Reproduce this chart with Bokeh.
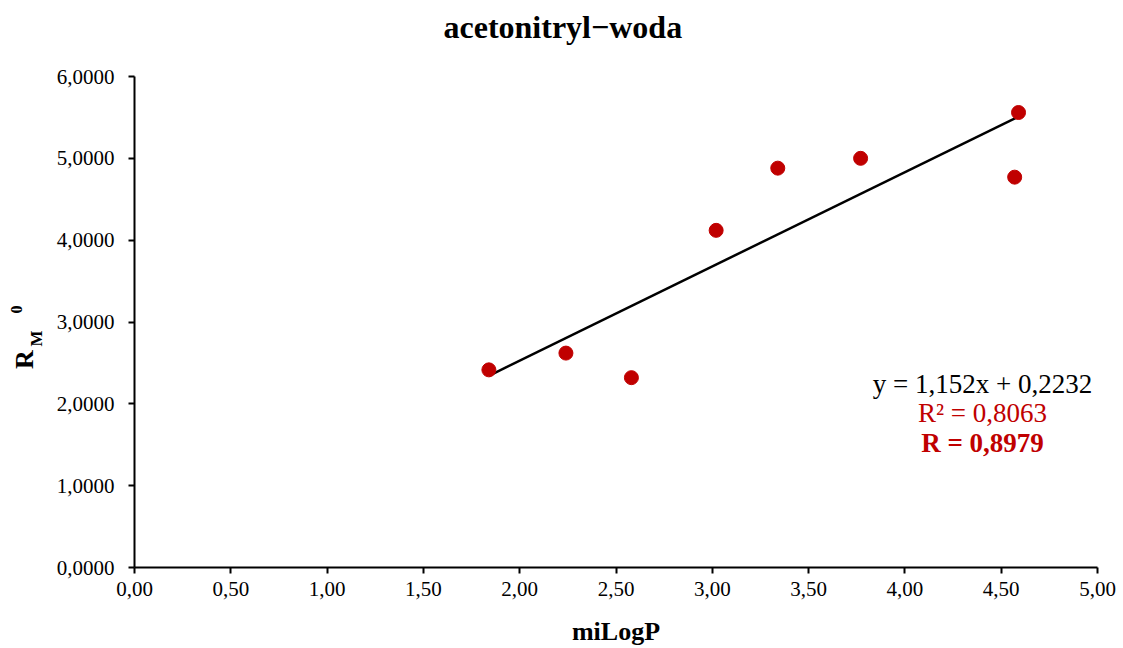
import math
from bokeh.plotting import figure
from bokeh.models import Range1d, FixedTicker, CustomJSTickFormatter, Label, Title
from bokeh.layouts import row
from bokeh.embed import file_html
from bokeh.resources import INLINE

# data
mi_logp = [1.84, 2.24, 2.58, 3.02, 3.34, 3.77, 4.57, 4.59]
rm0 = [2.415, 2.62, 2.32, 4.12, 4.88, 5.00, 4.77, 5.56]
slope = 1.152
intercept = 0.2232
x_ticks = [0, 0.5, 1, 1.5, 2, 2.5, 3, 3.5, 4, 4.5, 5]
y_ticks = [0, 1, 2, 3, 4, 5, 6]
title_text = "acetonitryl\u2212woda"
x_label = "miLogP"
eq_text = "y = 1,152x + 0,2232"
r2_text = "R² = 0,8063"
r_text = "R = 0,8979"

RED = "#C00000"
FONT = "Liberation Serif"
LEFT_W = 50

p = figure(width=1123 - LEFT_W, height=648, output_backend="svg", toolbar_location=None,
           title=None,
           x_range=Range1d(0, 5), y_range=Range1d(0, 6),
           min_border_left=134 - LEFT_W, min_border_right=26, min_border_top=76, min_border_bottom=80)

# spacer between frame and title, then the title itself (outermost)
p.add_layout(Title(text=" ", text_font=FONT, text_font_size="22px", standoff=0), "above")
p.add_layout(Title(text=title_text, align="left", offset=309, standoff=10,
                   text_font=FONT, text_font_size="32px", text_font_style="bold",
                   text_color="black"), "above")

p.grid.visible = False
p.outline_line_color = None
p.background_fill_color = "white"
p.border_fill_color = "white"

for ax in (p.xaxis[0], p.yaxis[0]):
    ax.axis_line_color = "black"
    ax.axis_line_width = 2
    ax.major_tick_line_color = "black"
    ax.major_tick_line_width = 2
    ax.major_tick_out = 6
    ax.major_tick_in = 0
    ax.minor_tick_line_color = None
    ax.major_label_text_font = FONT
    ax.major_label_text_font_size = "21px"
    ax.major_label_text_color = "black"

p.xaxis.ticker = FixedTicker(ticks=x_ticks)
p.yaxis.ticker = FixedTicker(ticks=y_ticks)
p.xaxis.formatter = CustomJSTickFormatter(code="return tick.toFixed(2).replace('.', ',');")
p.yaxis.formatter = CustomJSTickFormatter(code="return tick.toFixed(4).replace('.', ',');")
p.yaxis.major_label_standoff = 14
p.xaxis.major_label_standoff = 8
p.xaxis.axis_label = x_label
p.xaxis.axis_label_text_font = FONT
p.xaxis.axis_label_text_font_size = "26px"
p.xaxis.axis_label_text_font_style = "bold"
p.xaxis.axis_label_text_color = "black"
p.xaxis.axis_label_standoff = 18

# trend line
x0, x1 = min(mi_logp), max(mi_logp)
p.line([x0, x1], [slope * x0 + intercept, slope * x1 + intercept], line_color="black", line_width=2.5)

p.scatter(mi_logp, rm0, size=14, fill_color=RED, line_color=RED)

def lab(fig, text, x, y, size, color="black", bold=False, angle=0.0):
    fig.add_layout(Label(x=x, y=y, x_units="screen", y_units="screen", text=text,
                         text_font=FONT, text_font_size=size, text_color=color,
                         text_font_style="bold" if bold else "normal",
                         text_align="center", text_baseline="middle", angle=angle))

lab(p, eq_text, 848, 184, "27px")
lab(p, r2_text, 848, 155, "27px", RED)
lab(p, r_text, 848, 125, "27px", RED, bold=True)

# y-axis title R_M^0 in a narrow side panel (its frame is aligned with the main frame)
q = figure(width=LEFT_W, height=648, output_backend="svg", toolbar_location=None,
           x_range=Range1d(0, 1), y_range=Range1d(0, 1),
           min_border_left=0, min_border_right=0, min_border_top=0, min_border_bottom=0)
q.axis.visible = False
q.grid.visible = False
q.outline_line_color = None
q.background_fill_color = "white"
q.border_fill_color = "white"
lab(q, "R", 24, 208, "26px", bold=True, angle=math.pi / 2)
lab(q, "M", 36, 229, "17px", bold=True, angle=math.pi / 2)
lab(q, "0", 16, 258, "16px", bold=True, angle=math.pi / 2)

layout = row(q, p, spacing=0)
open("out.html", "w").write(file_html(layout, INLINE))
